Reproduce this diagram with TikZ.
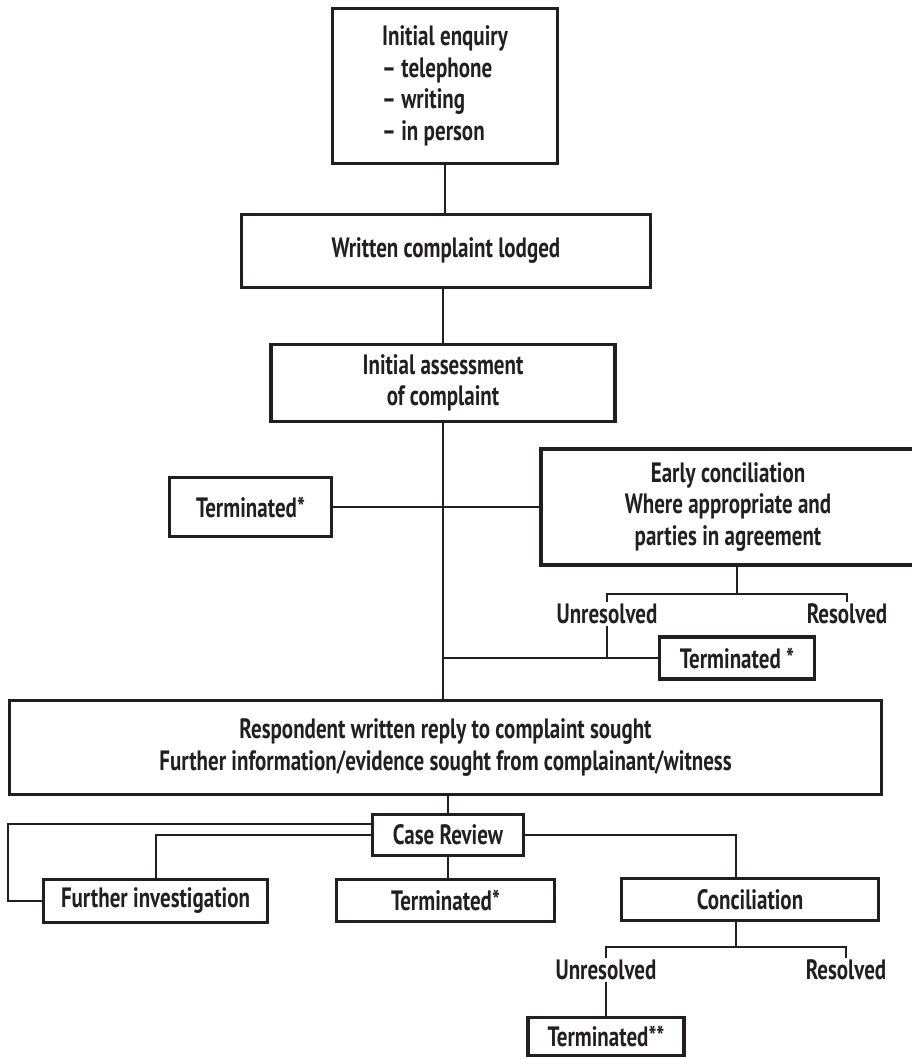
\documentclass[tikz,border=0pt]{standalone}
\usepackage{fontspec}
\setmainfont{PT Sans}[FakeStretch=0.75]
\usepackage{tikz}
\usetikzlibrary{calc}
\definecolor{ink}{HTML}{231F20}

\begin{document}
\begin{tikzpicture}[x=0.75pt,y=-0.75pt,
    boxnode/.style={draw=ink,line width=2.5pt,text=ink,align=center,inner sep=0pt,
      font=\fontsize{21}{23.6}\selectfont\bfseries},
    branchlabel/.style={text=ink,inner sep=1.5pt,font=\fontsize{21}{23.6}\selectfont\bfseries},
    link/.style={draw=ink,line width=1.5pt}]
    \useasboundingbox (0,0) rectangle (911,1059);

    % Initial enquiry (top)
    \node[boxnode,align=left,minimum width=168.75pt,minimum height=116.25pt] (enquiry) at (445,86)
      {Initial enquiry\\– telephone\\– writing\\– in person};

    % Written complaint
    \node[boxnode,minimum width=306.75pt,minimum height=54.75pt] (lodged) at (446,251) {Written complaint lodged};

    % Initial assessment
    \node[boxnode,minimum width=258pt,minimum height=57.75pt] (assess) at (443,383) {Initial assessment\\of complaint};

    % Terminated (left) and early conciliation (right)
    \node[boxnode,minimum width=121.5pt,minimum height=44.25pt] (term1) at (250.5,507) {Terminated*};
    \node[boxnode,minimum width=280.5pt,minimum height=87pt] (early) at (728,507)
      {Early conciliation\\Where appropriate and\\parties in agreement};

    % Outcome of early conciliation
    \node[branchlabel] (unres1) at (607,614) {Unresolved};
    \node[branchlabel] (res1) at (847,614) {Resolved};
    \node[boxnode,minimum width=116.25pt,minimum height=31.5pt] (term2) at (737,658) {Terminated *};

    % Respondent reply
    \node[boxnode,minimum width=654pt,minimum height=70.5pt] (reply) at (445.5,747.5)
      {Respondent written reply to complaint sought\\Further information/evidence sought from complainant/witness};

    % Case review and its three branches
    \node[boxnode,minimum width=113.25pt,minimum height=30.75pt] (review) at (448,835) {Case Review};
    \node[boxnode,minimum width=168pt,minimum height=32.25pt] (furtherinv) at (155.5,901) {Further investigation};
    \node[boxnode,minimum width=163.5pt,minimum height=31.5pt] (term3) at (445.5,900.5) {Terminated*};
    \node[boxnode,minimum width=192.75pt,minimum height=31.5pt] (concil) at (750,899.5) {Conciliation};

    % Outcome of conciliation
    \node[branchlabel] (unres2) at (606,970) {Unresolved};
    \node[branchlabel] (res2) at (846,970) {Resolved};
    \node[boxnode,minimum width=117pt,minimum height=28.5pt] (term4) at (606,1036.5) {Terminated**};

    % Main spine
    \draw[link] (enquiry.south) -- (enquiry.south |- lodged.north);
    \draw[link] (assess.north |- lodged.south) -- (assess.north);
    \draw[link] (assess.south) -- (assess.south |- reply.north);
    \draw[link] (term1.east) -- (early.west);

    % Early conciliation branches
    \coordinate (ejoin) at ($(early.south)+(9,27)$);
    \draw[link] (early.south -| ejoin) -- (ejoin);
    \draw[link] (unres1.north) |- (ejoin) -| (res1.north);
    \draw[link] (unres1.south) -- (unres1.south |- term2.west);
    \draw[link] (assess.south |- term2.west) -- (term2.west);

    % Case review branches
    \draw[link] (review.north |- reply.south) -- (review.north);
    \draw[link] ($(review.west)+(0,-11)$) -| ($(furtherinv.west)+(-34,0)$) -- (furtherinv.west);
    \draw[link] (review.west) -| (furtherinv.north);
    \draw[link] (review.south) -- (review.south |- term3.north);
    \draw[link] (review.east) -| ($(concil.north)+(-14,0)$);

    % Conciliation branches
    \coordinate (cjoin) at ($(concil.south)+(-14,25)$);
    \draw[link] (concil.south -| cjoin) -- (cjoin);
    \draw[link] (unres2.north) |- (cjoin) -| (res2.north);
    \draw[link] (unres2.south) -- (unres2.south |- term4.north);
\end{tikzpicture}
\end{document}
